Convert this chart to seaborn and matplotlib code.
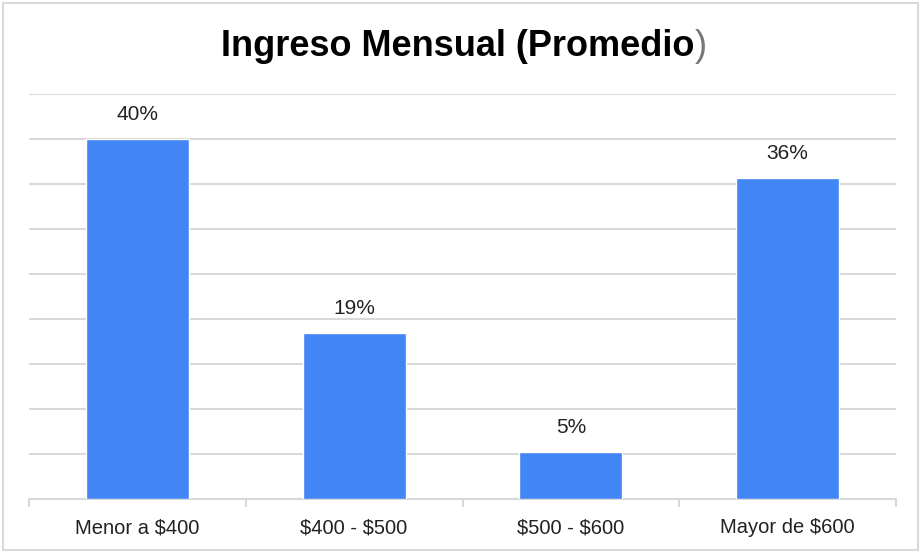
import matplotlib
matplotlib.use("Agg")
import matplotlib.pyplot as plt
import seaborn as sns
from matplotlib.patches import Rectangle
from matplotlib.ticker import FixedLocator, MultipleLocator

categories = ["Menor a $400", "$400 - $500", "$500 - $600", "Mayor de $600"]
values = [40.0, 18.4, 5.2, 35.7]
value_labels = ["40%", "19%", "5%", "36%"]
title_main = "Ingreso Mensual (Promedio"
title_tail = ")"

sns.set_theme(style="white")
plt.rcParams["font.family"] = ["Liberation Sans", "DejaVu Sans"]
plt.rcParams["text.parse_math"] = False

W, H = 923, 553
fig = plt.figure(figsize=(W / 100, H / 100), dpi=100)
ax = fig.add_axes([29 / W, (H - 499) / H, (896 - 29) / W, (499 - 94) / H])

grid_c = "#d9d9d9"
bar_c = "#4285F4"
txt_c = "#222222"

sns.barplot(x=categories, y=values, color=bar_c, width=0.475, ax=ax,
            saturation=1, zorder=3)

ax.set_xlim(-0.5, len(categories) - 0.5)
ax.set_ylim(0, 45)
ax.yaxis.set_major_locator(MultipleLocator(5))
ax.grid(axis="y", color=grid_c, linewidth=1.5, zorder=0)
ax.set_axisbelow(True)
ax.tick_params(axis="y", left=False, labelleft=False)
for s in ["top", "left", "right"]:
    ax.spines[s].set_visible(False)
ax.spines["bottom"].set_color(grid_c)
ax.spines["bottom"].set_linewidth(1.5)
ax.set_xlabel("")
ax.set_ylabel("")

ax.tick_params(axis="x", which="major", length=0, labelsize=14.5,
               labelcolor=txt_c, pad=14)
ax.xaxis.set_minor_locator(FixedLocator([i - 0.5 for i in range(len(categories) + 1)]))
ax.tick_params(axis="x", which="minor", length=6, width=1.5, color=grid_c,
               direction="out", bottom=True)

for i, (v, lab) in enumerate(zip(values, value_labels)):
    ax.annotate(lab, (i, v), xytext=(0, 15), textcoords="offset pixels",
                ha="center", va="bottom", fontsize=15, color=txt_c)

# Title: bold part plus a lighter closing paren
t = fig.text(0.5, (H - 46) / H, title_main, ha="center", va="center",
             fontsize=26, fontweight="bold", color="#000000")
shift = 4
t.set_x((W / 2 - shift) / W)
fig.canvas.draw()
bb = t.get_window_extent()
fig.text((bb.x1 + 1) / W, (H - 46) / H, title_tail, ha="left", va="center",
         fontsize=26, color="#777777")

# figure border
fig.patches.append(Rectangle((3 / W, 3 / H), (918 - 3) / W, (550 - 3) / H,
                             transform=fig.transFigure, fill=False,
                             edgecolor=grid_c, linewidth=1.5))

fig.savefig("out.png", dpi=100)
